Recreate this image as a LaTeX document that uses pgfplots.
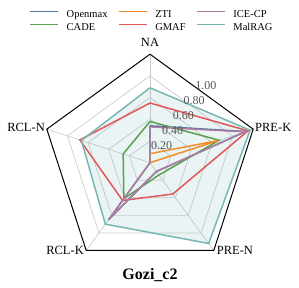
\documentclass[border=0pt]{standalone}
\usepackage{fontspec}
\setmainfont{Liberation Serif}
\usepackage{pgfplots}
\usepgfplotslibrary{polar}
\pgfplotsset{compat=1.18}
\definecolor{cOpen}{HTML}{4E79A7}
\definecolor{cCADE}{HTML}{59A14F}
\definecolor{cZTI}{HTML}{F28E2B}
\definecolor{cGMAF}{HTML}{E15759}
\definecolor{cICE}{HTML}{B07AA1}
\definecolor{cMal}{HTML}{76B7B2}
\definecolor{gridc}{HTML}{CCCCCC}
\definecolor{tickc}{HTML}{555555}
\begin{document}
\begin{tikzpicture}
\path[use as bounding box] (-150pt,-125.3pt) rectangle (149pt,162.7pt);
\begin{polaraxis}[at={(0pt,0pt)}, anchor=origin, width=217pt, height=217pt, scale only axis,
  xmin=0, xmax=360, ymin=0, ymax=1, hide axis, clip=false]
% grid
\addplot[gridc, line width=0.7pt, forget plot] coordinates {(90,0.2)(18,0.2)(306,0.2)(234,0.2)(162,0.2)(90,0.2)};
\addplot[gridc, line width=0.7pt, forget plot] coordinates {(90,0.4)(18,0.4)(306,0.4)(234,0.4)(162,0.4)(90,0.4)};
\addplot[gridc, line width=0.7pt, forget plot] coordinates {(90,0.6)(18,0.6)(306,0.6)(234,0.6)(162,0.6)(90,0.6)};
\addplot[gridc, line width=0.7pt, forget plot] coordinates {(90,0.8)(18,0.8)(306,0.8)(234,0.8)(162,0.8)(90,0.8)};
\addplot[gridc, line width=0.7pt, forget plot] coordinates {(90,0)(90,1)};
\addplot[gridc, line width=0.7pt, forget plot] coordinates {(18,0)(18,1)};
\addplot[gridc, line width=0.7pt, forget plot] coordinates {(306,0)(306,1)};
\addplot[gridc, line width=0.7pt, forget plot] coordinates {(234,0)(234,1)};
\addplot[gridc, line width=0.7pt, forget plot] coordinates {(162,0)(162,1)};
% fill
\addplot[fill=cMal, fill opacity=0.15, draw=none, forget plot] coordinates {(90,0.69)(18,0.97)(306,0.92)(234,0.70)(162,0.665)(90,0.69)};
% series
\addplot[cOpen, line width=1.5pt, forget plot] coordinates {(90,0.34)(18,0.93)(306,0.10)(234,0.65)(162,0)(90,0.34)};
\addplot[cCADE, line width=1.5pt, forget plot] coordinates {(90,0.38)(18,0.67)(306,0.14)(234,0.41)(162,0.26)(90,0.38)};
\addplot[cZTI, line width=1.5pt, forget plot] coordinates {(90,0.083)(18,0.66)(306,0)(234,0)(162,0)(90,0.083)};
\addplot[cGMAF, line width=1.5pt, forget plot] coordinates {(90,0.55)(18,0.95)(306,0.357)(234,0.43)(162,0.68)(90,0.55)};
\addplot[cICE, line width=1.5pt, forget plot] coordinates {(90,0.33)(18,0.92)(306,0.10)(234,0.64)(162,0)(90,0.33)};
\addplot[cMal, line width=1.5pt, forget plot] coordinates {(90,0.69)(18,0.97)(306,0.92)(234,0.70)(162,0.665)(90,0.69)};
% frame
\addplot[black, line width=1pt, forget plot] coordinates {(90,1)(18,1)(306,1)(234,1)(162,1)(90,1)};
\end{polaraxis}
\begin{axis}[at={(0pt,0pt)}, anchor=origin, width=217pt, height=217pt, scale only axis,
  xmin=-1, xmax=1, ymin=-1, ymax=1, hide axis,
  legend columns=3, legend cell align=left,
  legend style={draw=none, fill=none, inner sep=0pt, at={(axis description cs:-0.0562,1.205)}, anchor=north west,
    font=\fontsize{10.5}{12}\selectfont, nodes={inner sep=0pt, text height=7.5pt, text depth=2.5pt}, row sep=3.3pt,
    /tikz/every odd column/.style={column sep=7.7pt}, /tikz/every even column/.style={column sep=10.6pt}},
  legend image code/.code={\draw[#1, line width=1.5pt] (0pt,3.5pt) -- (28pt,3.5pt);},
]
\addlegendimage{cOpen}\addlegendentry{Openmax}
\addlegendimage{cZTI}\addlegendentry{ZTI}
\addlegendimage{cICE}\addlegendentry{ICE-CP}
\addlegendimage{cCADE}\addlegendentry{CADE}
\addlegendimage{cGMAF}\addlegendentry{GMAF}
\addlegendimage{cMal}\addlegendentry{MalRAG}
\end{axis}
\begin{scope}[every node/.style={font=\fontsize{12.5}{14}\selectfont, inner sep=0pt}]
\node[anchor=base] at (0pt,116pt) {NA};
\node[anchor=base west] at (105pt,31pt) {PRE-K};
\node[anchor=base east] at (-105pt,31pt) {RCL-N};
\node[anchor=base east] at (-66pt,-92.3pt) {RCL-K};
\node[anchor=base west] at (66.7pt,-92.3pt) {PRE-N};
\end{scope}
\begin{scope}[every node/.style={font=\fontsize{12}{14}\selectfont, text=tickc, inner sep=0pt}]
\node at (11.5pt,16.9pt) {0.20};
\node at (22.5pt,31.9pt) {0.40};
\node at (33.3pt,46.9pt) {0.60};
\node at (44.2pt,61.9pt) {0.80};
\node at (55.8pt,76.9pt) {1.00};
\end{scope}
\node[anchor=base, font=\fontsize{16}{18}\selectfont\bfseries, inner sep=0pt] at (0pt,-117.3pt) {Gozi\_c2};
\end{tikzpicture}
\end{document}
